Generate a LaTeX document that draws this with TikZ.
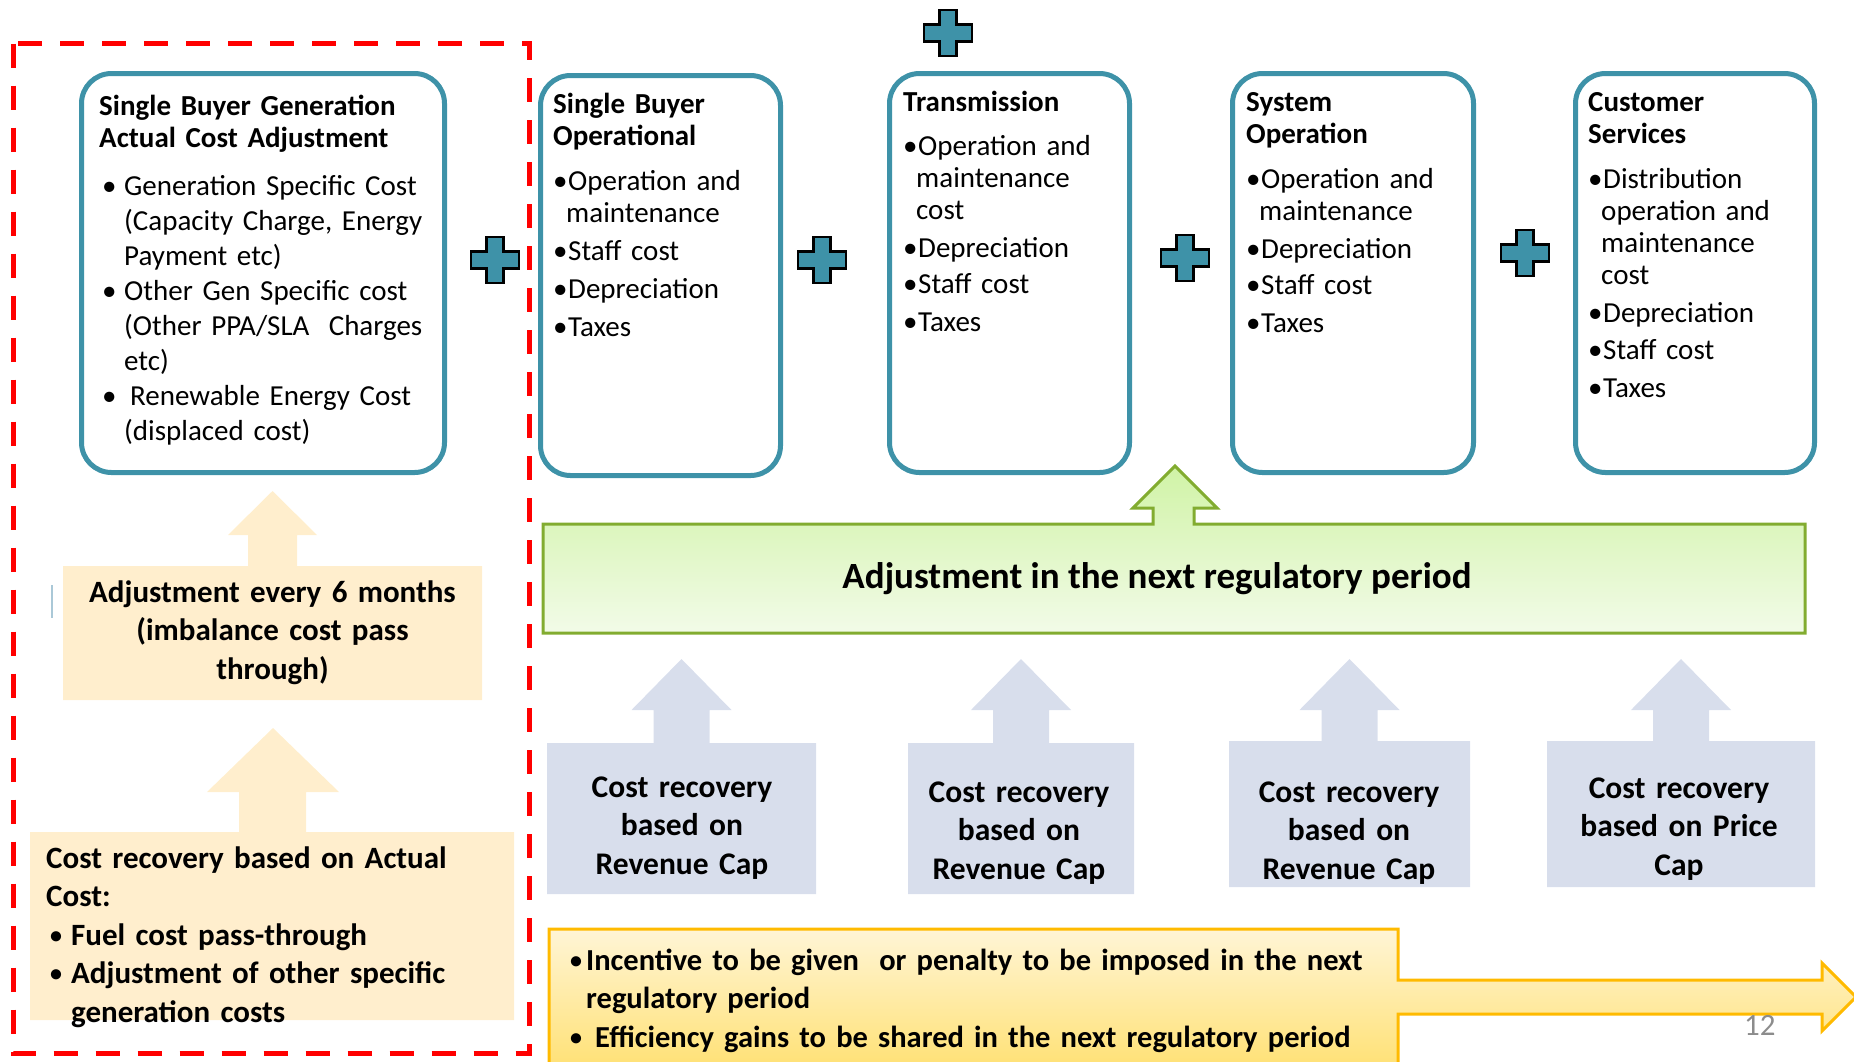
\documentclass[tikz,border=0pt]{standalone}
\usepackage{fontspec}
\setmainfont{Carlito}
\usetikzlibrary{calc}

\definecolor{boxteal}{RGB}{62,146,168}
\definecolor{dashred}{RGB}{255,0,0}
\definecolor{peach}{RGB}{255,238,205}
\definecolor{capblue}{RGB}{216,222,236}
\definecolor{leafgreen}{RGB}{130,172,48}
\definecolor{gold}{RGB}{255,186,0}
\definecolor{pagegrey}{RGB}{140,140,140}

\begin{document}
\begin{tikzpicture}
    [x=1pt, y=-1pt,
    crosspic/.pic={
    \filldraw[fill=boxteal, draw=black, line width=2.5pt] (-8.5,-23) -| (8.5,-8.5) -| (24,8.5) -| (8.5,23) -| (-8.5,8.5) -| (-24,-8.5) -| (-8.5,-23) -- cycle;},
    stackbox/.style={draw=boxteal, fill=white, line width=5pt, rounded corners=30pt, inner sep=0pt},
    boxtext/.style={anchor=base west, inner sep=0pt, align=left, font=\fontsize{29}{32}\selectfont},
    boldtext/.style={anchor=base, inner sep=0pt, align=center, font=\bfseries\fontsize{31.5}{38.5}\selectfont}]
\useasboundingbox (0,0) rectangle (1854,1061);

% generation side, framed in red
\draw[dashred, line width=5.5pt, dash pattern=on 24pt off 18pt] (13.5,43.5) rectangle (529.5,1053.5);
\draw[color={rgb,255:red,170;green,200;blue,215}, line width=2pt] (52,585) -- (52,618);

\node[stackbox, minimum width=363pt, minimum height=399pt] (sbgen) at (263,273) {};
\node[boxtext, text width=340pt, font=\fontsize{29}{35}\selectfont] (sbgentext) at (99,115)
  {\textbf{Single Buyer Generation}\\[-3pt]\textbf{Actual Cost Adjustment}\\[13pt]
   \hspace*{3pt}\makebox[22pt][l]{\textbullet}Generation Specific Cost\\
   \hspace*{25pt}(Capacity Charge, Energy\\
   \hspace*{25pt}Payment etc)\\
   \hspace*{3pt}\makebox[22pt][l]{\textbullet}Other Gen Specific cost\\
   \hspace*{25pt}(Other PPA/SLA\ \ Charges\\
   \hspace*{25pt}etc)\\
   \hspace*{3pt}\makebox[28pt][l]{\textbullet}Renewable Energy Cost\\
   \hspace*{25pt}(displaced cost)};

% peach arrows into the generation box
\fill[peach] (63,566) -- (248,566) -- (248,535) -- (228,535) -- (272.5,491) -- (317,535) -- (297,535) -- (297,566) -- (482,566) -- (482,700) -- (63,700) -- cycle;
\node[boldtext, text width=400pt, font=\bfseries\fontsize{31}{38.5}\selectfont] (sixmonth) at (272.5,602) {Adjustment every 6 months\\(imbalance cost pass\\through)};
\fill[peach] (30,832) -- (239,832) -- (239,792) -- (207,792) -- (273,728) -- (339,792) -- (306,792) -- (306,832) -- (514,832) -- (514,1020) -- (30,1020) -- cycle;
\node[boldtext, anchor=base west, align=left, text width=470pt, font=\bfseries\fontsize{31}{38.5}\selectfont] (actualcost) at (46,868)
  {Cost recovery based on Actual\\Cost:\\
   \hspace*{4pt}\makebox[21pt][l]{\raisebox{2pt}{\fontsize{24}{24}\selectfont\textbullet}}Fuel cost pass-through\\
   \hspace*{4pt}\makebox[21pt][l]{\raisebox{2pt}{\fontsize{24}{24}\selectfont\textbullet}}Adjustment of other specific\\
   \hspace*{25pt}generation costs};

% regulated businesses
\node[stackbox, minimum width=240pt, minimum height=400pt] (sbops) at (660.5,275.5) {};
\node[boxtext, text width=225pt] (sbopstext) at (553,113)
  {\textbf{Single Buyer}\\\textbf{Operational}\\[13pt]
   \makebox[15pt][l]{\textbullet}Operation and\\
   \hspace*{13pt}maintenance\\[6pt]
   \makebox[15pt][l]{\textbullet}Staff cost\\[6pt]
   \makebox[15pt][l]{\textbullet}Depreciation\\[6pt]
   \makebox[15pt][l]{\textbullet}Taxes};

\node[stackbox, minimum width=240pt, minimum height=399pt] (trans) at (1009.5,273) {};
\node[boxtext, text width=225pt] (transtext) at (903,111)
  {\textbf{Transmission}\\[12pt]
   \makebox[15pt][l]{\textbullet}Operation and\\
   \hspace*{13pt}maintenance\\
   \hspace*{13pt}cost\\[6pt]
   \makebox[15pt][l]{\textbullet}Depreciation\\[4pt]
   \makebox[15pt][l]{\textbullet}Staff cost\\[6pt]
   \makebox[15pt][l]{\textbullet}Taxes};

\node[stackbox, minimum width=241pt, minimum height=399pt] (sysop) at (1353,273) {};
\node[boxtext, text width=225pt] (sysoptext) at (1246,111)
  {\textbf{System}\\\textbf{Operation}\\[13pt]
   \makebox[15pt][l]{\textbullet}Operation and\\
   \hspace*{13pt}maintenance\\[6pt]
   \makebox[15pt][l]{\textbullet}Depreciation\\[4pt]
   \makebox[15pt][l]{\textbullet}Staff cost\\[6pt]
   \makebox[15pt][l]{\textbullet}Taxes};

\node[stackbox, minimum width=239pt, minimum height=399pt] (custsvc) at (1695,273) {};
\node[boxtext, text width=225pt] (custsvctext) at (1588,111)
  {\textbf{Customer}\\\textbf{Services}\\[13pt]
   \makebox[15pt][l]{\textbullet}Distribution\\
   \hspace*{13pt}operation and\\
   \hspace*{13pt}maintenance\\
   \hspace*{13pt}cost\\[6pt]
   \makebox[15pt][l]{\textbullet}Depreciation\\[5pt]
   \makebox[15pt][l]{\textbullet}Staff cost\\[6pt]
   \makebox[15pt][l]{\textbullet}Taxes};

\pic at (495,260) {crosspic};
\pic at (822,260) {crosspic};
\pic at (948,33) {crosspic};
\pic at (1185,258) {crosspic};
\pic at (1525,253) {crosspic};

% next regulatory period
\filldraw[draw=leafgreen, line width=3pt, top color={rgb,255:red,208;green,243;blue,166}, bottom color={rgb,255:red,242;green,251;blue,232}]
  (543,524) -- (1153,524) -- (1153,508) -- (1133,508) -- (1175,466) -- (1217,508) -- (1194,508) -- (1194,524) -- (1805,524) -- (1805,633) -- (543,633) -- cycle;
\node[boldtext, font=\bfseries\fontsize{37}{40}\selectfont] (nextperiod) at (1157,588) {Adjustment in the next regulatory period};

\foreach \l/\r/\t/\b in {547/816/743/894, 908/1134/743/894, 1229/1470/741/887, 1547/1815/741/887}
  \fill[capblue] (\l,\t) -- ({(\l+\r)/2-28},\t) -- ({(\l+\r)/2-28},710) -- ({(\l+\r)/2-50},710) -- ({(\l+\r)/2},659)
    -- ({(\l+\r)/2+50},710) -- ({(\l+\r)/2+28},710) -- ({(\l+\r)/2+28},\t) -- (\r,\t) -- (\r,\b) -- (\l,\b) -- cycle;
\node[boldtext, text width=260pt] (revcap1) at (682,797) {Cost recovery\\based on\\Revenue Cap};
\node[boldtext, text width=220pt] (revcap2) at (1019,802) {Cost recovery\\based on\\Revenue Cap};
\node[boldtext, text width=230pt] (revcap3) at (1349,802) {Cost recovery\\based on\\Revenue Cap};
\node[boldtext, text width=260pt] (pricecap) at (1679,798) {Cost recovery\\based on Price\\Cap};

% incentives arrow
\filldraw[draw=gold, line width=3pt, top color={rgb,255:red,255;green,245;blue,214}, bottom color={rgb,255:red,255;green,224;blue,112}]
  (549,929) -- (1398,929) -- (1398,980) -- (1822,980) -- (1822,963) -- (1856,997) -- (1822,1031) -- (1822,1014) -- (1398,1014) -- (1398,1075) -- (549,1075) -- cycle;
\node[boldtext, anchor=base west, align=left, text width=950pt, font=\bfseries\fontsize{30.5}{38.5}\selectfont] (incentive) at (570,970)
  {\makebox[16pt][l]{\raisebox{2pt}{\fontsize{24}{24}\selectfont\textbullet}}Incentive to be given\ \ or penalty to be imposed in the next\\
   \hspace*{16pt}regulatory period\\
   \makebox[25pt][l]{\raisebox{2pt}{\fontsize{24}{24}\selectfont\textbullet}}Efficiency gains to be shared in the next regulatory period};

\node[anchor=base west, inner sep=0pt, text=pagegrey, font=\fontsize{31}{31}\selectfont] (pagenum) at (1744,1035) {12};
\end{tikzpicture}
\end{document}
